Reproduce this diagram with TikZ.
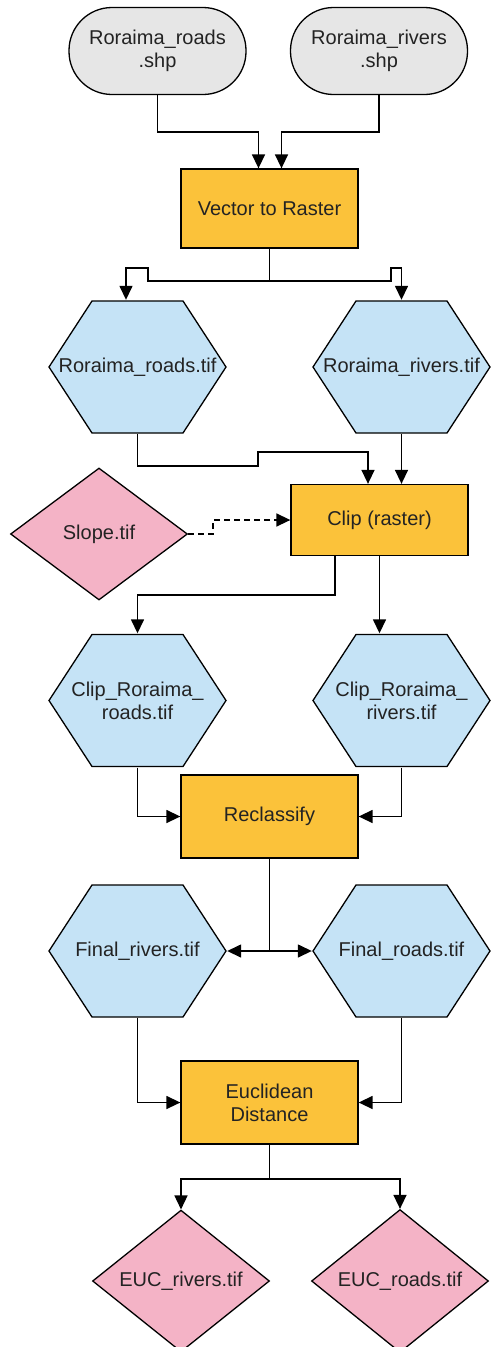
\documentclass[tikz,border=0pt]{standalone}
\usepackage{fontspec}
\setmainfont{Liberation Sans}
\usetikzlibrary{shapes.geometric,arrows.meta}

\definecolor{shpgray}{RGB}{230,230,230}
\definecolor{toolorange}{RGB}{251,194,58}
\definecolor{tifblue}{RGB}{197,227,246}
\definecolor{tifpink}{RGB}{244,179,198}
\definecolor{txt}{RGB}{35,35,35}

\begin{document}
\begin{tikzpicture}[x=1pt, y=-1pt,
        every node/.style={font=\fontsize{20}{23}\selectfont, text=txt, align=center, inner sep=2pt},
        shpnode/.style={draw, line width=1.3pt, fill=shpgray, rectangle, rounded corners=43pt, minimum width=177pt, minimum height=87pt},
        toolnode/.style={draw, line width=1.3pt, fill=toolorange, rectangle, minimum width=177pt},
        hexnode/.style={rectangle, inner sep=0pt, minimum width=179pt, minimum height=134pt,
            path picture={\filldraw[line width=1.3pt, fill=tifblue]
                ([xshift=1pt]path picture bounding box.west)
                -- ([xshift=44pt, yshift=-1pt]path picture bounding box.north west)
                -- ([xshift=-44pt, yshift=-1pt]path picture bounding box.north east)
                -- ([xshift=-1pt]path picture bounding box.east)
                -- ([xshift=-44pt, yshift=1pt]path picture bounding box.south east)
                -- ([xshift=44pt, yshift=1pt]path picture bounding box.south west)
                -- cycle;}},
        dianode/.style={draw, line width=1.3pt, fill=tifpink, diamond, minimum width=177pt, minimum height=132pt, inner sep=0pt},
        arr/.style={line width=1.5pt, -{Triangle[length=14pt, width=13pt]}}]
        \useasboundingbox (0,0) rectangle (491,1347);

        % inputs
        \node[shpnode] (roadsshp) at (157.5,51) {Roraima\_roads\\.shp};
        \node[shpnode] (riversshp) at (379,51) {Roraima\_rivers\\.shp};
        \node[toolnode, minimum height=79pt] (vtr) at (269.5,208.5) {Vector to Raster};

        \draw[arr] (roadsshp.south) -- (157.5,132) -| ([xshift=-11pt]vtr.north);
        \draw[arr] (riversshp.south) -- (379,132) -| ([xshift=12pt]vtr.north);

        % rasters
        \node[hexnode] (roadstif) at (137.5,367) {Roraima\_roads.tif};
        \node[hexnode] (riverstif) at (401.5,367) {Roraima\_rivers.tif};

        \draw[arr] (vtr.south) -- (269.5,281) -- (148,281) -- (148,268) -| ([xshift=-11.5pt]roadstif.north);
        \draw[arr] (269.5,281) -- (391,281) -- (391,268) -| (riverstif.north);

        % clip
        \node[toolnode, minimum height=71pt] (clip) at (379.5,520) {Clip (raster)};
        \node[dianode] (slope) at (99,534) {Slope.tif};

        \draw[arr] (roadstif.south) -- (137.5,466) -- (258,466) -- (258,452) -| ([xshift=-11.5pt]clip.north);
        \draw[arr] (riverstif.south) -- (clip.north -| riverstif.south);
        \draw[arr, dash pattern=on 6pt off 4pt] (slope.east) -- (213,534) -- (213,520) -- (clip.west);

        \node[hexnode] (cliproads) at (137.5,700.5) {Clip\_Roraima\_\\roads.tif};
        \node[hexnode] (cliprivers) at (401.5,700.5) {Clip\_Roraima\_\\rivers.tif};

        \draw[arr] ([xshift=-44.5pt]clip.south) -- (335,595) -| (cliproads.north);
        \draw[arr] (clip.south) -- (cliprivers.north -| clip.south);

        % reclassify
        \node[toolnode, minimum height=83pt] (recl) at (269.5,816.5) {Reclassify};

        \draw[arr] (cliproads.south) |- (recl.west);
        \draw[arr] (cliprivers.south) |- (recl.east);

        \node[hexnode] (finalrivers) at (137.5,951) {Final\_rivers.tif};
        \node[hexnode] (finalroads) at (401.5,951) {Final\_roads.tif};

        \draw[arr] (recl.south) |- (finalrivers.east);
        \draw[arr] (recl.south) |- (finalroads.west);

        % euclidean distance
        \node[toolnode, minimum height=83pt] (euc) at (269.5,1102.5) {Euclidean\\Distance};

        \draw[arr] (finalrivers.south) |- (euc.west);
        \draw[arr] (finalroads.south) |- (euc.east);

        \node[dianode] (eucrivers) at (181,1281) {EUC\_rivers.tif};
        \node[dianode] (eucroads) at (400,1281) {EUC\_roads.tif};

        \draw[arr] (euc.south) -- (269.5,1179) -| (eucrivers.north);
        \draw[arr] (269.5,1179) -| (eucroads.north);
    \end{tikzpicture}
\end{document}
